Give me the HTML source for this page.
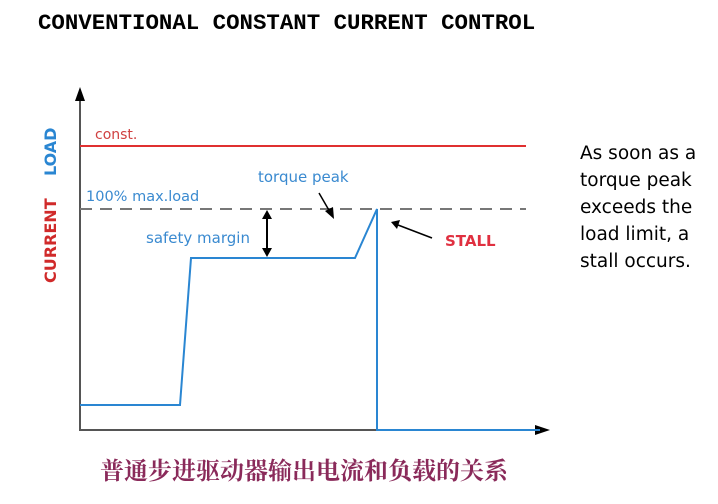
<!DOCTYPE html>
<html><head><meta charset="utf-8"><style>
body{margin:0;width:718px;height:499px;background:#fff;overflow:hidden}
</style></head><body>
<svg width="718" height="499" xmlns="http://www.w3.org/2000/svg">
<text x="38" y="29" font-family="Liberation Mono, monospace" font-weight="bold" font-size="22.4" fill="#000">CONVENTIONAL CONSTANT CURRENT CONTROL</text>
<line x1="80" y1="100" x2="80" y2="431" stroke="#555" stroke-width="2"/>
<polygon points="80,87 75,101 85,101" fill="#000"/>
<line x1="80" y1="430" x2="535" y2="430" stroke="#555" stroke-width="2"/>
<polygon points="550,430 535,425 535,435" fill="#000"/>
<line x1="80" y1="146" x2="526" y2="146" stroke="#e03030" stroke-width="2"/>
<text x="95" y="139" font-family="DejaVu Sans, sans-serif" font-size="14" fill="#d04040">const.</text>
<line x1="80" y1="209" x2="526" y2="209" stroke="#777" stroke-width="2" stroke-dasharray="12,8"/>
<text x="86" y="201" font-family="DejaVu Sans, sans-serif" font-size="14.5" fill="#3a8ad0">100% max.load</text>
<polyline points="80,405 180,405 191,258 355,258 377,209 377,430 540,430" fill="none" stroke="#2a86d2" stroke-width="2"/>
<text x="258" y="182" font-family="DejaVu Sans, sans-serif" font-size="15" fill="#3a8ad0">torque peak</text>
<text x="146" y="243" font-family="DejaVu Sans, sans-serif" font-size="15" fill="#3a8ad0">safety margin</text>
<line x1="267" y1="215" x2="267" y2="252" stroke="#000" stroke-width="2"/>
<polygon points="267,210 262,219 272,219" fill="#000"/>
<polygon points="267,257 262,248 272,248" fill="#000"/>
<line x1="319" y1="193" x2="330" y2="212" stroke="#000" stroke-width="1.5"/>
<polygon points="334,219 325,211 333,207" fill="#000"/>
<line x1="432" y1="238" x2="398" y2="225" stroke="#000" stroke-width="1.5"/>
<polygon points="391,222 400,220 397,229" fill="#000"/>
<text x="445" y="246" font-family="DejaVu Sans, sans-serif" font-weight="bold" font-size="15" fill="#e03040">STALL</text>
<text transform="translate(56,283) rotate(-90)" font-family="DejaVu Sans, sans-serif" font-weight="bold" font-size="16" fill="#d02a2a">CURRENT</text>
<text transform="translate(56,176) rotate(-90)" font-family="DejaVu Sans, sans-serif" font-weight="bold" font-size="16" fill="#2a86d2">LOAD</text>
<g font-family="DejaVu Sans, sans-serif" font-size="18.5" fill="#000">
<text x="580" y="159">As soon as a</text>
<text x="580" y="186">torque peak</text>
<text x="580" y="213">exceeds the</text>
<text x="580" y="240">load limit, a</text>
<text x="580" y="267">stall occurs.</text>
</g>
<text x="100" y="479" font-family="Noto Serif CJK SC, serif" font-weight="bold" font-size="24" fill="#8a2a5a">普通步进驱动器输出电流和负载的关系</text>
</svg>
</body></html>
